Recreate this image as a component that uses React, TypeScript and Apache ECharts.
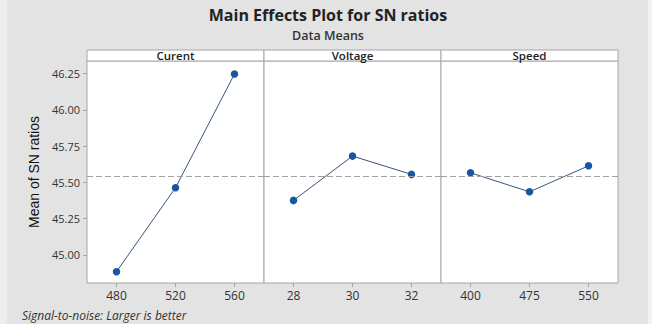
import React, { useEffect, useRef } from "react";
import * as echarts from "echarts";

const panelNames = ["Curent", "Voltage", "Speed"];
const currentLevels = ["480", "520", "560"];
const currentMeans = [44.885, 45.463, 46.247];
const voltageLevels = ["28", "30", "32"];
const voltageMeans = [45.376, 45.681, 45.555];
const speedLevels = ["400", "475", "550"];
const speedMeans = [45.566, 45.435, 45.614];
const yTicks = [45.0, 45.25, 45.5, 45.75, 46.0, 46.25];

const levelsList = [currentLevels, voltageLevels, speedLevels];
const meansList = [currentMeans, voltageMeans, speedMeans];

export default function App() {
  const ref = useRef<HTMLDivElement>(null);
  useEffect(() => {
    if (!ref.current) return;
    const chart = echarts.init(ref.current, null, { renderer: "svg" });
    const all = meansList.flat();
    const grand = all.reduce((a, b) => a + b, 0) / all.length;
    const left0 = 87;
    const pw = 177;
    const top = 61;
    const h = 222;
    const grids = [0, 1, 2].map((i) => ({
      left: left0 + i * pw,
      top,
      width: pw,
      height: h,
      show: true,
      backgroundColor: "#ffffff",
      borderColor: "#a6a6a6",
      borderWidth: 1,
    }));
    const xAxes = [0, 1, 2].map((i) => ({
      type: "category",
      gridIndex: i,
      data: levelsList[i],
      boundaryGap: true,
      axisLine: { show: false },
      axisTick: { show: true, alignWithLabel: true, length: 4, lineStyle: { color: "#a6a6a6" } },
      axisLabel: { color: "#333", fontSize: 12, fontFamily: "Open Sans", margin: 6 },
      splitLine: { show: false },
    }));
    const yAxes = [0, 1, 2].map((i) => ({
      type: "value",
      gridIndex: i,
      min: 44.807,
      max: 46.336,
      axisLine: { show: false },
      axisTick: {
        show: i === 0,
        length: 4,
        customValues: yTicks,
        lineStyle: { color: "#a6a6a6" },
      },
      axisLabel: {
        show: i === 0,
        customValues: yTicks,
        formatter: (v: number) => v.toFixed(2),
        color: "#333",
        fontSize: 11,
        fontFamily: "Open Sans",
        margin: 7,
      },
      splitLine: { show: false },
      name: i === 0 ? "Mean of SN ratios" : "",
      nameLocation: "middle",
      nameGap: 46,
      nameRotate: 90,
      nameTextStyle: {
        color: "#111",
        fontSize: 14,
        fontFamily: "Liberation Sans Narrow, Liberation Sans, Arial",
      },
    }));
    const series = [0, 1, 2].map((i) => ({
      type: "line",
      xAxisIndex: i,
      yAxisIndex: i,
      data: meansList[i],
      symbol: "circle",
      symbolSize: 7.5,
      itemStyle: { color: "#1756a0" },
      lineStyle: { color: "#3b5578", width: 1 },
      markLine: {
        silent: true,
        symbol: "none",
        label: { show: false },
        lineStyle: { color: "#a0a0a0", type: [6, 3], width: 1 },
        data: [{ yAxis: grand }],
      },
    }));
    const headers: any[] = [];
    [0, 1, 2].forEach((i) => {
      headers.push({
        type: "rect",
        shape: { x: left0 + i * pw, y: 50, width: pw, height: 11 },
        style: { fill: "#ffffff", stroke: "#a6a6a6", lineWidth: 1 },
      });
      headers.push({
        type: "text",
        x: left0 + i * pw + pw / 2,
        y: 55.5,
        style: {
          text: panelNames[i],
          fill: "#222",
          font: "600 11.5px 'Open Sans'",
          align: "center",
          verticalAlign: "middle",
        },
      });
    });
    chart.setOption({
      animation: false,
      backgroundColor: "#e3e3e3",
      grid: grids,
      xAxis: xAxes,
      yAxis: yAxes,
      series,
      graphic: [
        {
          type: "rect",
          shape: { x: 0, y: 0, width: 7, height: 324 },
          style: { fill: "#ededed" },
        },
        {
          type: "rect",
          shape: { x: 648, y: 0, width: 4, height: 324 },
          style: { fill: "#f2f2f2" },
        },
        {
          type: "text",
          x: 328,
          y: 15,
          style: {
            text: "Main Effects Plot for SN ratios",
            fill: "#222",
            font: "bold 16px 'Open Sans'",
            align: "center",
            verticalAlign: "middle",
          },
        },
        {
          type: "text",
          x: 328,
          y: 35,
          style: {
            text: "Data Means",
            fill: "#333",
            font: "600 12.5px 'Open Sans'",
            align: "center",
            verticalAlign: "middle",
          },
        },
        ...headers,
        {
          type: "text",
          x: 22,
          y: 315,
          style: {
            text: "Signal-to-noise: Larger is better",
            fill: "#333",
            font: "italic 12px 'Open Sans'",
            verticalAlign: "middle",
          },
        },
      ],
    });
    return () => chart.dispose();
  }, []);
  return <div ref={ref} style={{ width: 652, height: 324, position: "absolute", left: 0, top: 0 }} />;
}
